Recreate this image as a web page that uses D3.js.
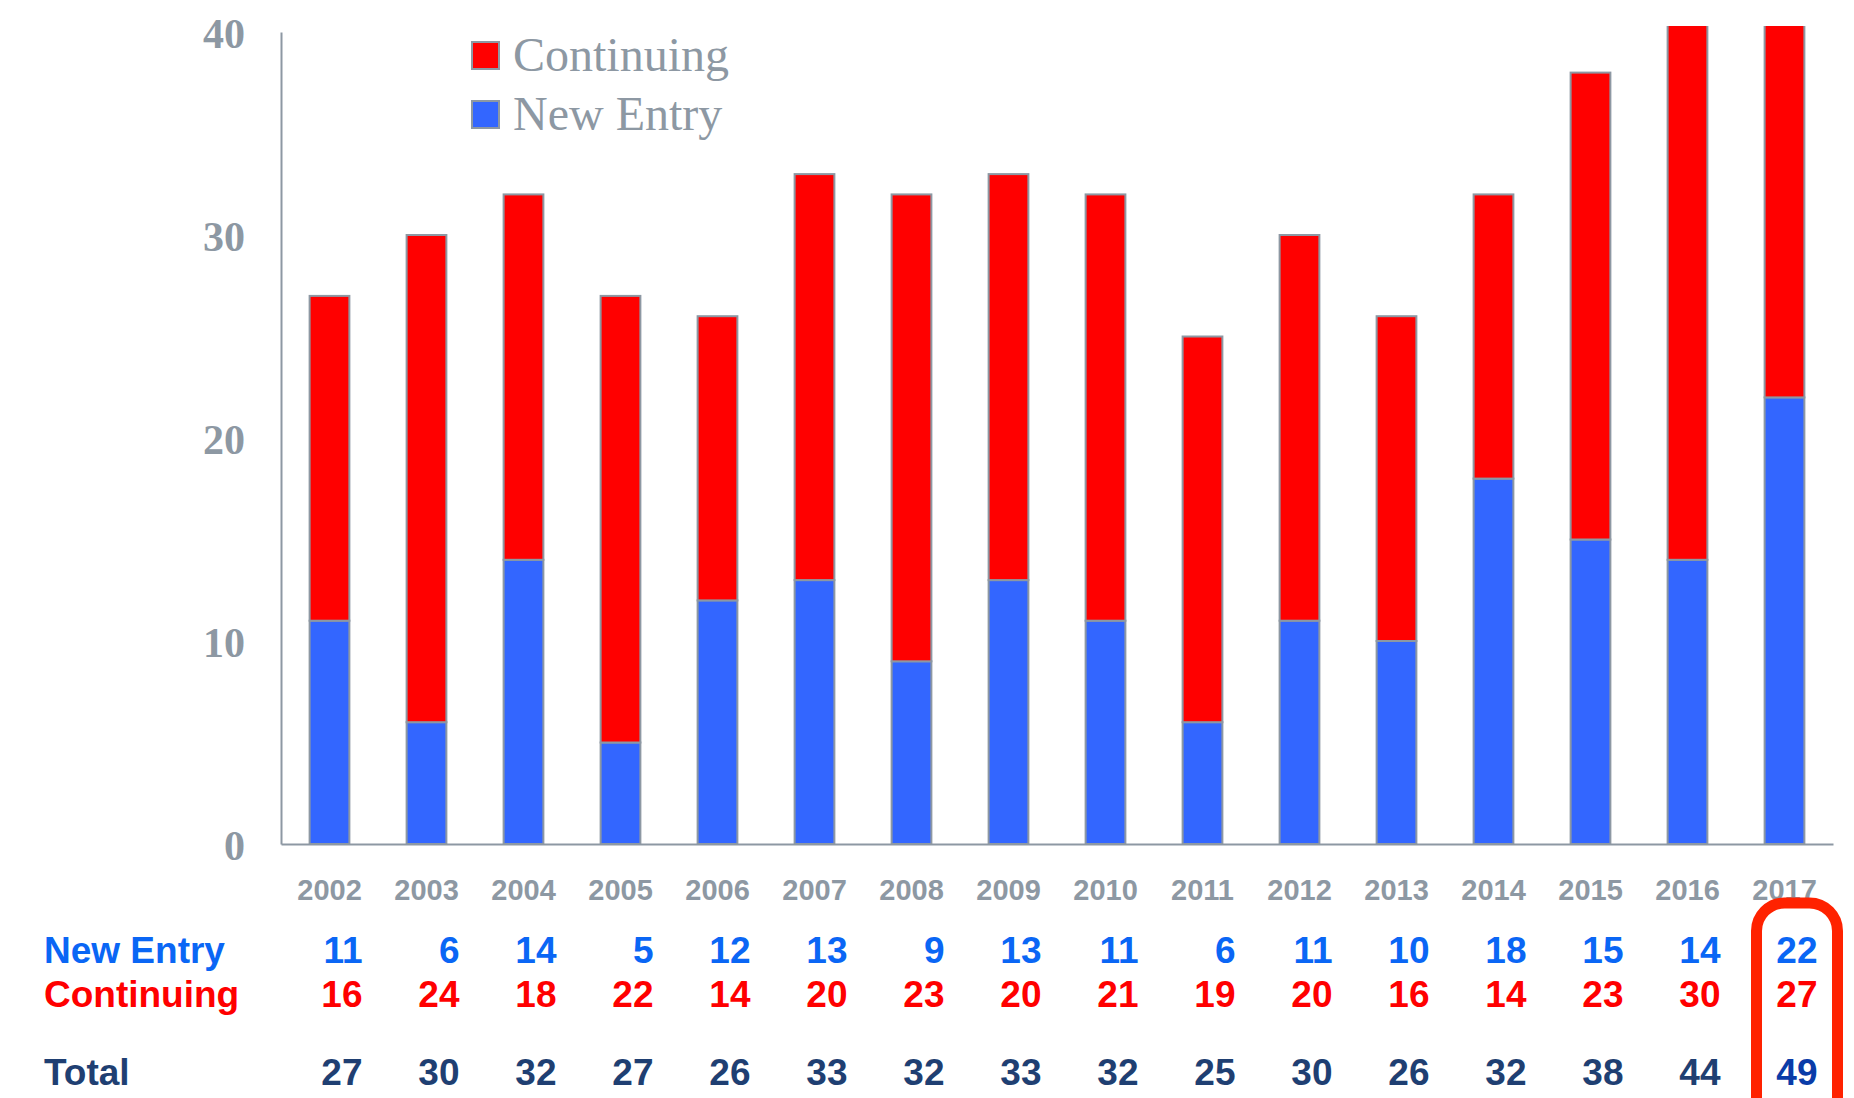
<!DOCTYPE html>
<html>
<head>
<meta charset="utf-8">
<script src="https://cdn.jsdelivr.net/npm/d3@7"></script>
<style>
  html, body { margin: 0; padding: 0; background: #ffffff; }
  svg { display: block; }
</style>
</head>
<body>
<svg id="chart" width="1854" height="1098"></svg>
<script>
// Yearly counts: new entries, continuing entries and totals
const years = ["2002","2003","2004","2005","2006","2007","2008","2009","2010","2011","2012","2013","2014","2015","2016","2017"];
const newEntry   = [11, 6, 14, 5, 12, 13, 9, 13, 11, 6, 11, 10, 18, 15, 14, 22];
const continuing = [16, 24, 18, 22, 14, 20, 23, 20, 21, 19, 20, 16, 14, 23, 30, 27];
const totals     = [27, 30, 32, 27, 26, 33, 32, 33, 32, 25, 30, 26, 32, 38, 44, 49];
const yTicks = [0, 10, 20, 30, 40];
const seriesNames = ["Continuing", "New Entry"];

const GRAY = "#8d98a3";
const RED = "#ff0000";
const BLUE = "#3366ff";

const svg = d3.select("#chart");

const x = d3.scaleBand()
  .domain(years)
  .range([281, 1833])
  .paddingInner(0.59)
  .paddingOuter(0.295);

const y = d3.scaleLinear()
  .domain([0, 40])
  .range([844, 32]);

// Bars taller than the axis are cut just above its top
svg.append("defs").append("clipPath").attr("id", "plotClip")
  .append("rect")
  .attr("x", 0).attr("y", y(40) - 6)
  .attr("width", 1854).attr("height", y(0) - y(40) + 6);

const rows = years.map((yr, i) => ({
  year: yr, newEntry: newEntry[i], continuing: continuing[i], total: totals[i]
}));

const bars = svg.append("g").attr("clip-path", "url(#plotClip)");

// New Entry segment at the base
bars.selectAll("rect.new").data(rows).join("rect")
  .attr("class", "new")
  .attr("x", d => x(d.year))
  .attr("width", x.bandwidth())
  .attr("y", d => y(d.newEntry))
  .attr("height", d => y(0) - y(d.newEntry))
  .attr("fill", BLUE)
  .attr("stroke", GRAY)
  .attr("stroke-width", 2);

// Continuing segment stacked up to the total
bars.selectAll("rect.cont").data(rows).join("rect")
  .attr("class", "cont")
  .attr("x", d => x(d.year))
  .attr("width", x.bandwidth())
  .attr("y", d => y(d.total))
  .attr("height", d => y(d.newEntry) - y(d.total))
  .attr("fill", RED)
  .attr("stroke", GRAY)
  .attr("stroke-width", 2);

// Y axis
const yAxis = svg.append("g")
  .attr("transform", `translate(${x.range()[0]},0)`)
  .call(d3.axisLeft(y).tickValues(yTicks).tickSize(0).tickSizeOuter(0).tickPadding(36));
yAxis.select(".domain").attr("stroke", GRAY).attr("stroke-width", 2);
yAxis.selectAll("text")
  .attr("fill", GRAY)
  .attr("dy", "0.38em")
  .style("font-family", "'Liberation Serif', 'DejaVu Serif', serif")
  .style("font-size", "42px")
  .style("font-weight", "bold");

// X axis with year labels
const xAxis = svg.append("g")
  .attr("transform", `translate(0,${y(0)})`)
  .call(d3.axisBottom(x).tickSize(0).tickSizeOuter(0).tickPadding(35));
xAxis.select(".domain").attr("stroke", GRAY).attr("stroke-width", 2);
xAxis.selectAll("text")
  .attr("fill", GRAY)
  .style("font-family", "'Liberation Sans', Arial, sans-serif")
  .style("font-size", "29px")
  .style("font-weight", "bold");

// Legend
const legendColor = d3.scaleOrdinal().domain(seriesNames).range([RED, BLUE]);
const legend = svg.append("g").attr("transform", "translate(472,42)");
seriesNames.forEach((name, i) => {
  const g = legend.append("g").attr("transform", `translate(0,${i * 59})`);
  g.append("rect")
    .attr("width", 27).attr("height", 27)
    .attr("fill", legendColor(name))
    .attr("stroke", GRAY).attr("stroke-width", 2);
  g.append("text")
    .attr("x", 41).attr("y", 29)
    .attr("fill", GRAY)
    .style("font-family", "'Liberation Serif', 'DejaVu Serif', serif")
    .style("font-size", "48px")
    .text(name);
});

// Table of values under the chart
const tableRows = [
  { label: "New Entry",  values: newEntry,   color: "#0a66f5", baseline: 963 },
  { label: "Continuing", values: continuing, color: "#ff0000", baseline: 1007 },
  { label: "Total",      values: totals,     color: "#1f3f72", baseline: 1085 }
];
const table = svg.append("g")
  .style("font-family", "'Liberation Sans', Arial, sans-serif")
  .style("font-size", "37px")
  .style("font-weight", "bold");

tableRows.forEach(row => {
  table.append("text")
    .attr("x", 44).attr("y", row.baseline)
    .attr("fill", row.color)
    .text(row.label);
  table.selectAll(null).data(row.values).join("text")
    .attr("x", (d, i) => x(years[i]) + x.bandwidth() / 2 + 33)
    .attr("y", row.baseline)
    .attr("text-anchor", "end")
    .attr("fill", (d, i) => (row.label === "Total" && i === years.length - 1) ? "#0a3ca8" : row.color)
    .text(d => d);
});

// Highlight around the latest year's column
const last = years[years.length - 1];
svg.append("rect")
  .attr("x", x(last) + x.bandwidth() / 2 - 28)
  .attr("y", 903)
  .attr("width", 81)
  .attr("height", 260)
  .attr("rx", 28)
  .attr("fill", "none")
  .attr("stroke", "#ff2200")
  .attr("stroke-width", 11);
</script>
</body>
</html>
